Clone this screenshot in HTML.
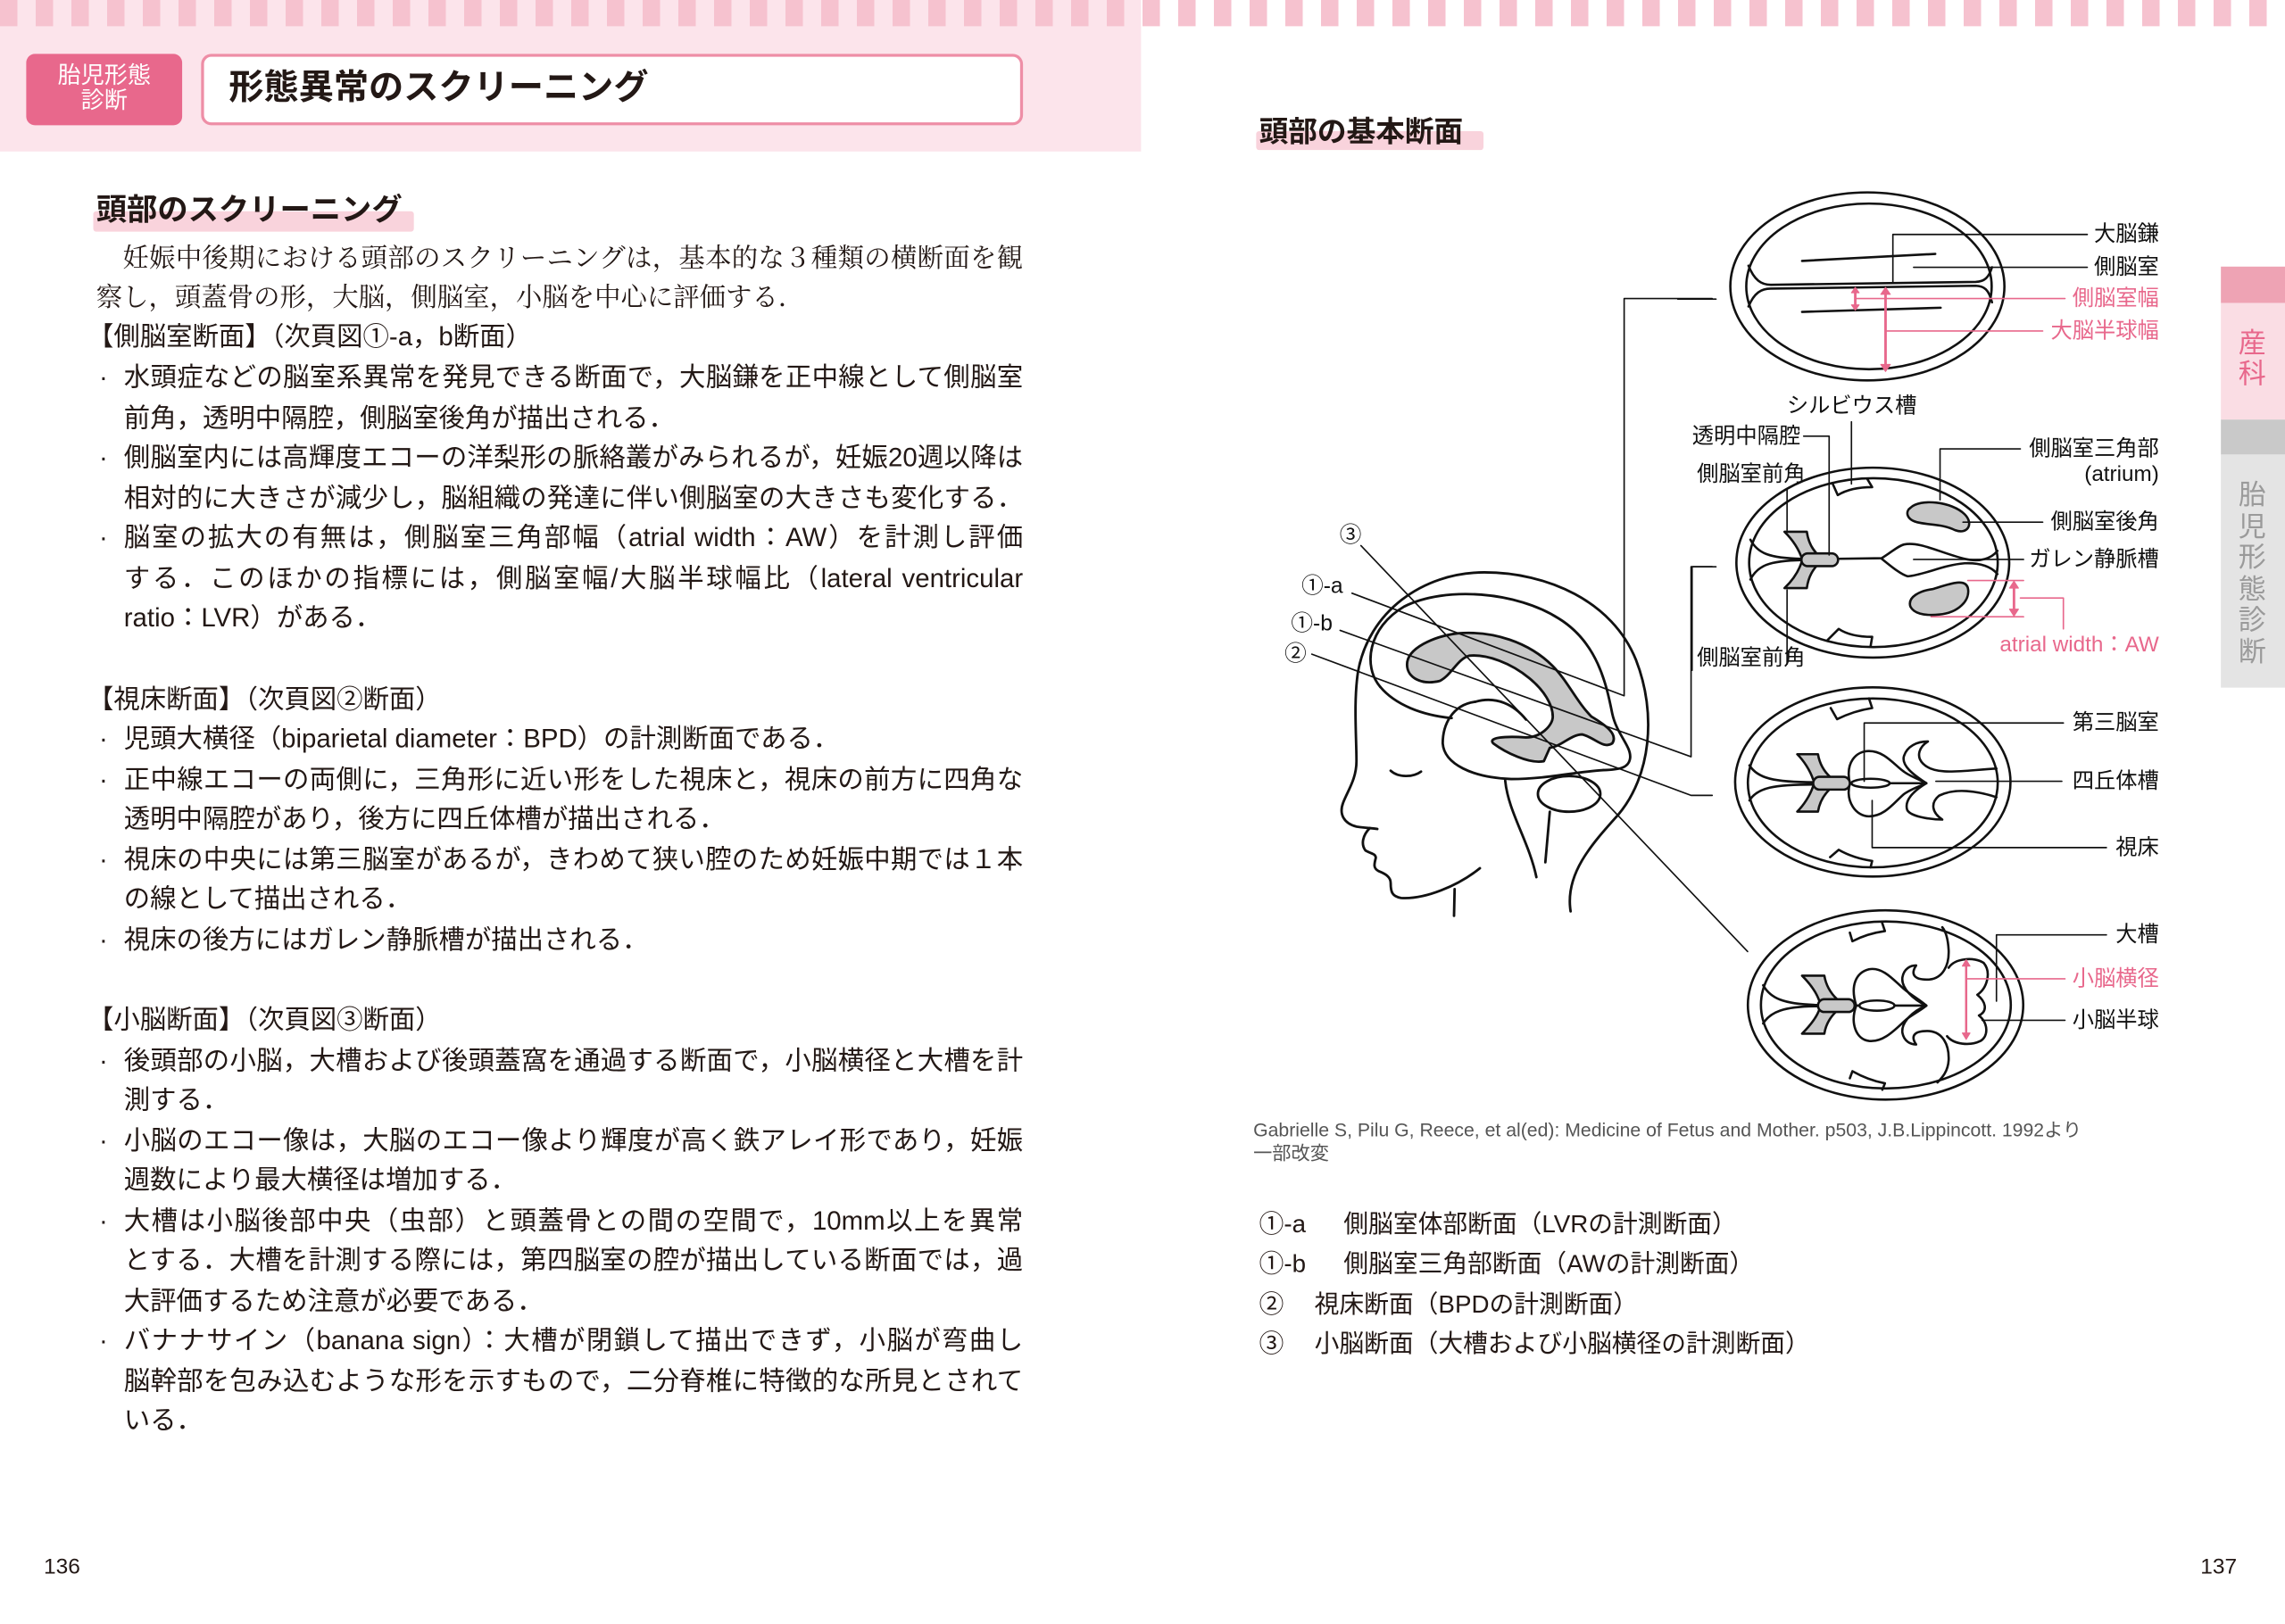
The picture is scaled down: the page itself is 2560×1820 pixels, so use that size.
<!DOCTYPE html>
<html><head><meta charset="utf-8">
<style>
html,body{margin:0;padding:0;width:2560px;height:1820px;overflow:hidden;background:#fff}
#pg{position:absolute;left:0;top:0;width:1568px;height:1115px;transform:scale(1.63265);transform-origin:0 0;font-family:"Liberation Sans","Noto Sans CJK JP",sans-serif;color:#231815}
.a{position:absolute;white-space:nowrap}
.l{position:absolute;font-size:18px;line-height:27px;height:27px;white-space:nowrap}
.j{text-align:justify;text-align-last:justify;white-space:normal;overflow:hidden}
.s{font-family:"Liberation Serif","Noto Serif CJK SC",serif}
.b{position:absolute;font-size:18px;line-height:27px}
</style></head><body><div id="pg">
<!-- top stripes -->
<div class="a" style="left:0;top:0;width:783px;height:104px;background:#fce4eb"></div>
<div class="a" style="left:0;top:0;width:1568px;height:18px;background:repeating-linear-gradient(90deg,#f6c2cf 0 12px,transparent 12px 24.5px)"></div>
<!-- badge & title -->
<div class="a" style="left:18px;top:37px;width:107px;height:49px;background:#e8688c;border-radius:6px;color:#fff;font-size:16px;line-height:17px;text-align:center;padding-top:7px;box-sizing:border-box;white-space:normal">胎児形態<br>診断</div>
<div class="a" style="left:138px;top:37px;width:564px;height:49px;background:#fff;border:2px solid #ee8ea6;border-radius:7px;box-sizing:border-box"></div>
<div class="a" style="left:157px;top:44px;font-size:24px;line-height:34px;font-weight:bold">形態異常のスクリーニング</div>
<!-- left heading -->
<div class="a" style="left:64px;top:145px;width:220px;height:14px;background:#f9d3dc;border-radius:2px"></div>
<div class="a" style="left:66px;top:131px;font-size:21px;line-height:28px;font-weight:bold">頭部のスクリーニング</div>
<!-- body -->
<div class="l j s" style="left:66px;top:164px;width:636px">　妊娠中後期における頭部のスクリーニングは，基本的な３種類の横断面を観</div>
<div class="l s" style="left:66px;top:191px">察し，頭蓋骨の形，大脳，側脳室，小脳を中心に評価する．</div>
<div class="l" style="left:60px;top:218px">【側脳室断面】（次頁図①-a，b断面）</div>
<div class="b" style="left:68px;top:246px">·</div><div class="l j" style="left:85px;top:246px;width:617px">水頭症などの脳室系異常を発見できる断面で，大脳鎌を正中線として側脳室</div>
<div class="l" style="left:85px;top:274px">前角，透明中隔腔，側脳室後角が描出される．</div>
<div class="b" style="left:68px;top:301px">·</div><div class="l j" style="left:85px;top:301px;width:617px">側脳室内には高輝度エコーの洋梨形の脈絡叢がみられるが，妊娠20週以降は</div>
<div class="l j" style="left:85px;top:329px;width:617px">相対的に大きさが減少し，脳組織の発達に伴い側脳室の大きさも変化する．</div>
<div class="b" style="left:68px;top:356px">·</div><div class="l j" style="left:85px;top:356px;width:617px">脳室の拡大の有無は，側脳室三角部幅（atrial width：AW）を計測し評価</div>
<div class="l j" style="left:85px;top:384px;width:617px">する．このほかの指標には，側脳室幅/大脳半球幅比（lateral ventricular</div>
<div class="l" style="left:85px;top:411px">ratio：LVR）がある．</div>
<div class="l" style="left:60px;top:467px">【視床断面】（次頁図②断面）</div>
<div class="b" style="left:68px;top:494px">·</div><div class="l" style="left:85px;top:494px">児頭大横径（biparietal diameter：BPD）の計測断面である．</div>
<div class="b" style="left:68px;top:522px">·</div><div class="l j" style="left:85px;top:522px;width:617px">正中線エコーの両側に，三角形に近い形をした視床と，視床の前方に四角な</div>
<div class="l" style="left:85px;top:549px">透明中隔腔があり，後方に四丘体槽が描出される．</div>
<div class="b" style="left:68px;top:577px">·</div><div class="l j" style="left:85px;top:577px;width:617px">視床の中央には第三脳室があるが，きわめて狭い腔のため妊娠中期では１本</div>
<div class="l" style="left:85px;top:604px">の線として描出される．</div>
<div class="b" style="left:68px;top:632px">·</div><div class="l" style="left:85px;top:632px">視床の後方にはガレン静脈槽が描出される．</div>
<div class="l" style="left:60px;top:687px">【小脳断面】（次頁図③断面）</div>
<div class="b" style="left:68px;top:715px">·</div><div class="l j" style="left:85px;top:715px;width:617px">後頭部の小脳，大槽および後頭蓋窩を通過する断面で，小脳横径と大槽を計</div>
<div class="l" style="left:85px;top:742px">測する．</div>
<div class="b" style="left:68px;top:770px">·</div><div class="l j" style="left:85px;top:770px;width:617px">小脳のエコー像は，大脳のエコー像より輝度が高く鉄アレイ形であり，妊娠</div>
<div class="l" style="left:85px;top:797px">週数により最大横径は増加する．</div>
<div class="b" style="left:68px;top:825px">·</div><div class="l j" style="left:85px;top:825px;width:617px">大槽は小脳後部中央（虫部）と頭蓋骨との間の空間で，10mm以上を異常</div>
<div class="l j" style="left:85px;top:852px;width:617px">とする．大槽を計測する際には，第四脳室の腔が描出している断面では，過</div>
<div class="l" style="left:85px;top:880px">大評価するため注意が必要である．</div>
<div class="b" style="left:68px;top:907px">·</div><div class="l j" style="left:85px;top:907px;width:617px">バナナサイン（banana sign）：大槽が閉鎖して描出できず，小脳が弯曲し</div>
<div class="l j" style="left:85px;top:935px;width:617px">脳幹部を包み込むような形を示すもので，二分脊椎に特徴的な所見とされて</div>
<div class="l" style="left:85px;top:962px">いる．</div>
<div class="a" style="left:30px;top:1066px;font-size:15px;line-height:20px">136</div>
<div class="a" style="left:1510px;top:1066px;font-size:15px;line-height:20px">137</div>
<!-- right heading -->
<div class="a" style="left:862px;top:90px;width:156px;height:13px;background:#f9d3dc;border-radius:2px"></div>
<div class="a" style="left:864px;top:77px;font-size:20px;line-height:28px;font-weight:bold">頭部の基本断面</div>
<!-- side tabs -->
<div class="a" style="left:1524px;top:183px;width:44px;height:25px;background:#eea3b4"></div>
<div class="a" style="left:1524px;top:208px;width:44px;height:80px;background:#fadde4"></div>
<div class="a" style="left:1536px;top:226px;width:20px;font-size:19px;line-height:21px;color:#e8688c;white-space:normal">産科</div>
<div class="a" style="left:1524px;top:288px;width:44px;height:24px;background:#c9c9c9"></div>
<div class="a" style="left:1524px;top:312px;width:44px;height:160px;background:#e4e4e4"></div>
<div class="a" style="left:1536px;top:330px;width:20px;font-size:19px;line-height:21.5px;color:#9a9a9a;white-space:normal">胎児形態診断</div>
<!-- citation & list -->
<div class="a" style="left:860px;top:768px;font-size:13px;line-height:16px;color:#555">Gabrielle S, Pilu G, Reece, et al(ed): Medicine of Fetus and Mother. p503, J.B.Lippincott. 1992より<br>一部改変</div>
<div class="a" style="left:864px;top:829px;font-size:17px;line-height:24px">①-a</div><div class="a" style="left:922px;top:829px;font-size:17px;line-height:24px">側脳室体部断面（LVRの計測断面）</div>
<div class="a" style="left:864px;top:856px;font-size:17px;line-height:24px">①-b</div><div class="a" style="left:922px;top:856px;font-size:17px;line-height:24px">側脳室三角部断面（AWの計測断面）</div>
<div class="a" style="left:864px;top:884px;font-size:17px;line-height:24px">②</div><div class="a" style="left:902px;top:884px;font-size:17px;line-height:24px">視床断面（BPDの計測断面）</div>
<div class="a" style="left:864px;top:911px;font-size:17px;line-height:24px">③</div><div class="a" style="left:902px;top:911px;font-size:17px;line-height:24px">小脳断面（大槽および小脳横径の計測断面）</div>

<svg class="a" style="left:0;top:0" width="1568" height="1115" viewBox="0 0 1568 1115" fill="none" stroke="#111" stroke-linecap="round" stroke-linejoin="round" font-family="Liberation Sans,Noto Sans CJK JP,sans-serif">
<!-- HEAD -->
<g transform="translate(869.6,342.9) scale(0.2041)">
 <g stroke-width="8.5">
 <path d="M1020,1385 C1000,1260 1090,1160 1180,1060 C1290,930 1310,720 1240,540 C1160,340 940,245 730,245 C520,245 340,380 305,580 C290,680 300,800 300,880 C300,940 270,980 255,1020 C240,1060 260,1090 300,1100 C330,1105 355,1105 370,1108"/>
 <path d="M345,1105 C320,1130 315,1160 330,1180 C345,1190 365,1190 365,1205 C360,1225 355,1240 375,1250 C400,1260 415,1270 415,1290 C415,1320 420,1335 450,1340 C530,1345 640,1300 715,1240"/>
 <path d="M630,1310 L628,1400"/>
 <path d="M380,630 C320,560 340,430 460,360 C600,290 840,310 980,400 C1110,480 1140,620 1160,720 C1175,790 1225,830 1220,870 C1215,905 1180,908 1130,910"/>
 <path d="M380,630 C430,690 520,725 620,735"/>
 <path d="M700,680 C620,690 590,760 590,820 C595,890 690,935 820,940 C940,940 1040,915 1130,910"/>
 <path d="M700,680 C770,660 830,690 870,740"/>
 <path d="M800,945 C810,1050 880,1150 905,1270"/><path d="M950,1050 L935,1220"/>
 <ellipse cx="1015" cy="990" rx="105" ry="60" fill="#fff"/>
 <path d="M415,912 C440,935 490,935 517,915"/>
 <path fill="#c8c8c8" d="M470,555 C470,500 560,460 640,450 C760,440 880,480 960,560 C1010,610 1040,680 1090,730 C1140,760 1180,790 1160,820 C1130,840 1100,800 1060,790 C1020,790 990,830 950,835 L930,880 C880,890 800,850 760,820 C740,800 800,795 870,800 C920,800 960,760 960,730 C960,690 930,640 880,600 C820,550 740,520 680,525 C640,535 620,590 580,610 C520,625 470,600 470,555 Z"/>
 </g>
 <g stroke-width="5">
 <path d="M315,155 L1615,1520"/>
 <path d="M285,315 L1200,660 L1200,-676 L1496,-676"/>
 <path d="M245,440 L1425,865 L1425,226 L1496,226"/>
 <path d="M150,520 L1425,995 L1496,995"/>
 </g>
 <g fill="#111" stroke="none" font-size="74" dominant-baseline="central">
 <text x="243" y="120">③</text>
 <text x="115" y="292">①-a</text>
 <text x="80" y="418">①-b</text>
 <text x="58" y="520">②</text>
 </g>
</g>
<!-- CIRCLES 1 & 2 -->
<g transform="translate(1151.3,110.2) scale(0.2187)">
 <g stroke-width="7.3">
 <ellipse cx="595" cy="395" rx="430" ry="295"/>
 <ellipse cx="600" cy="395" rx="385" ry="260"/>
 <path d="M222,330 C240,375 262,390 292,390 L935,381 C962,380 976,368 986,335"/>
 <path d="M222,458 C240,415 262,402 292,402 L935,393 C962,394 976,405 986,445"/>
 <path d="M390,315 L808,293"/><path d="M390,475 L825,462"/>
 </g>
 <g stroke-width="4.6">
 <path d="M675,385 L675,232 L1285,232"/><path d="M740,335 L1285,335"/>
 </g>
 <g stroke="#e8688c" stroke-width="4.6">
 <path d="M557,433 L1215,433"/><path d="M655,535 L1145,535"/>
 </g>
 <g stroke="#e8688c" stroke-width="8" fill="#e8688c">
 <path d="M557,410 L557,458"/><path d="M652,415 L652,645"/>
 <path d="M545,415 L557,398 L569,415Z M545,453 L557,470 L569,453Z M637,420 L652,398 L667,420Z M637,640 L652,662 L667,640Z" stroke-width="3"/>
 </g>
 <!-- circle 2 -->
 <g stroke-width="7.3">
 <ellipse cx="612" cy="1262" rx="428" ry="298"/>
 <ellipse cx="614" cy="1262" rx="390" ry="265"/>
 <path d="M228,1190 C250,1232 285,1248 390,1250"/><path d="M228,1315 C250,1272 285,1256 390,1254"/>
 <path d="M500,1250 L640,1248 C670,1230 690,1210 710,1205 C760,1195 820,1230 900,1250 C950,1262 985,1248 1003,1225"/>
 <path d="M640,1250 C665,1270 700,1300 722,1305 C775,1300 830,1270 900,1264 C950,1262 985,1275 1003,1298"/>
 <path fill="#c8c8c8" d="M335,1165 L405,1165 C410,1200 425,1225 445,1242 L390,1250 C380,1220 360,1190 335,1165Z"/>
 <path fill="#c8c8c8" d="M335,1342 L405,1342 C410,1305 425,1282 445,1262 L390,1256 C380,1290 360,1318 335,1342Z"/>
 <rect x="388" y="1233" width="115" height="40" rx="20" fill="#c8c8c8"/>
 <path fill="#c8c8c8" d="M730,1090 C760,1060 860,1070 900,1110 C930,1140 910,1175 870,1160 C830,1140 790,1145 750,1135 C715,1125 715,1100 730,1090Z"/>
 <path fill="#c8c8c8" d="M730,1400 C720,1370 760,1350 800,1345 C850,1330 900,1310 910,1340 C920,1380 880,1420 820,1425 C770,1430 740,1420 730,1400Z"/>
 <path d="M485,1012 L502,1050 C535,1030 572,1025 610,1025 L595,1000"/>
 <path d="M470,1505 L505,1470 C535,1490 572,1495 610,1495 L605,1525"/>
 </g>
 <g stroke-width="4.6">
 <path d="M545,820 L545,1015"/><path d="M395,865 L475,865 L475,1238"/>
 <path d="M343,1030 L343,1160"/><path d="M343,1348 L343,1580"/>
 <path d="M1075,905 L823,905 L823,1065"/><path d="M895,1135 L1145,1135"/><path d="M740,1252 L1085,1252"/>
 <path d="M120,1275 L45,1275 L45,1600"/><path d="M0,435 L120,435"/>
 </g>
 <g stroke="#e8688c" stroke-width="4.6">
 <path d="M910,1318 L1085,1318"/><path d="M795,1432 L1085,1432"/><path d="M1075,1373 L1210,1373 L1210,1470"/>
 </g>
 <g stroke="#e8688c" fill="#e8688c">
 <path d="M1055,1335 L1055,1415" stroke-width="8"/>
 <path d="M1041,1342 L1055,1320 L1069,1342Z M1041,1408 L1055,1430 L1069,1408Z" stroke-width="3"/>
 </g>
 <g fill="#111" stroke="none" font-size="68" dominant-baseline="central" text-anchor="end">
 <text x="1510" y="232">大脳鎌</text>
 <text x="1510" y="335">側脳室</text>
 <text x="1510" y="433" fill="#e8688c">側脳室幅</text>
 <text x="1510" y="535" fill="#e8688c">大脳半球幅</text>
 <text x="750" y="770">シルビウス槽</text>
 <text x="385" y="865">透明中隔腔</text>
 <text x="400" y="985">側脳室前角</text>
 <text x="1510" y="905">側脳室三角部</text>
 <text x="1510" y="985">(atrium)</text>
 <text x="1510" y="1135">側脳室後角</text>
 <text x="1510" y="1252">ガレン静脈槽</text>
 <text x="1510" y="1520" fill="#e8688c">atrial width：AW</text>
 <text x="400" y="1562">側脳室前角</text>
 </g>
</g>
<!-- CIRCLES 3 & 4 -->
<g transform="translate(1151.3,453.2) scale(0.2187)">
 <g stroke-width="7.3">
 <ellipse cx="612" cy="382" rx="432" ry="297"/>
 <ellipse cx="612" cy="385" rx="392" ry="265"/>
 <path d="M225,330 C250,370 300,383 430,383"/><path d="M225,440 C250,400 300,390 430,390"/>
 <path d="M540,386 C525,320 560,285 600,285 C650,285 680,330 710,350 C730,365 760,375 780,386 C760,395 730,405 710,420 C680,445 650,490 600,490 C560,490 525,445 540,386Z"/>
 <path d="M540,386 L780,386"/>
 <ellipse cx="605" cy="386" rx="60" ry="14" fill="#fff"/>
 <path d="M780,386 C740,360 700,330 710,300 C720,270 750,255 785,255 C760,270 745,300 770,325 C810,365 900,345 1000,340"/>
 <path d="M780,386 C740,410 710,440 720,470 C730,490 790,500 830,500 C800,480 790,450 820,425 C870,400 940,410 1000,430"/>
 <path fill="#c8c8c8" d="M375,295 L440,295 C445,325 460,350 480,368 L425,375 C415,345 395,315 375,295Z"/>
 <path fill="#c8c8c8" d="M375,475 L440,475 C445,445 460,420 480,402 L425,395 C415,425 395,455 375,475Z"/>
 <rect x="425" y="366" width="115" height="40" rx="20" fill="#c8c8c8"/>
 <path d="M480,150 L500,185 C540,165 578,155 610,150 L600,120"/>
 <path d="M478,618 L505,595 C540,615 578,625 610,630 L605,650"/>
 <!-- circle 4 -->
 <ellipse cx="652" cy="1082" rx="432" ry="297"/>
 <ellipse cx="653" cy="1082" rx="392" ry="262"/>
 <path d="M268,1020 C290,1060 330,1080 440,1082"/><path d="M268,1140 C290,1105 330,1086 440,1086"/>
 <path d="M560,1084 C540,1020 560,980 600,970 C650,960 690,1020 720,1040 C740,1055 765,1070 780,1084 C765,1097 740,1110 720,1125 C690,1150 650,1200 600,1195 C560,1190 540,1140 560,1084Z"/>
 <path d="M560,1084 L780,1084"/>
 <ellipse cx="625" cy="1084" rx="55" ry="16" fill="#fff"/>
 <path fill="#c8c8c8" d="M390,990 L460,990 C465,1020 480,1045 500,1064 L445,1072 C435,1040 410,1010 390,990Z"/>
 <path fill="#c8c8c8" d="M390,1172 L460,1172 C465,1140 480,1118 500,1100 L445,1094 C435,1125 410,1152 390,1172Z"/>
 <rect x="440" y="1064" width="115" height="40" rx="20" fill="#c8c8c8"/>
 <path d="M780,1084 C740,1065 700,1030 705,995 C710,968 730,958 748,958 C730,985 740,1005 790,1002 C830,998 852,960 850,910 C848,875 840,850 830,838"/>
 <path d="M780,1084 C740,1100 700,1135 705,1170 C710,1196 730,1206 748,1206 C730,1180 740,1162 790,1164 C830,1168 852,1205 850,1255 C848,1290 830,1310 815,1325"/>
 <path d="M850,965 C870,935 930,930 960,950 C985,980 970,1030 940,1050 C965,1070 975,1100 945,1115 C975,1140 975,1180 950,1195 C915,1212 865,1205 845,1180"/>
 <path d="M540,855 L548,882 C580,865 615,855 650,850 L640,820"/>
 <path d="M540,1312 L548,1290 C580,1308 618,1322 650,1328 L642,1348"/>
 </g>
 <g stroke-width="4.6">
 <path d="M585,380 L585,197 L1210,197"/><path d="M810,380 L1205,380"/><path d="M610,440 L610,588 L1345,588"/>
 <path d="M1000,1070 L1000,862 L1345,862"/><path d="M955,1130 L1215,1130"/>
 </g>
 <g stroke="#e8688c" fill="#e8688c">
 <path d="M905,1000 L1215,1000" stroke-width="4.6"/>
 <path d="M905,955 L905,1175" stroke-width="7"/>
 <path d="M893,960 L905,940 L917,960Z M893,1170 L905,1190 L917,1170Z" stroke-width="3"/>
 </g>
 <g fill="#111" stroke="none" font-size="68" dominant-baseline="central" text-anchor="end">
 <text x="1510" y="197">第三脳室</text>
 <text x="1510" y="380">四丘体槽</text>
 <text x="1510" y="588">視床</text>
 <text x="1510" y="862">大槽</text>
 <text x="1510" y="1000" fill="#e8688c">小脳横径</text>
 <text x="1510" y="1130">小脳半球</text>
 </g>
</g>
</svg>
</div></body></html>
